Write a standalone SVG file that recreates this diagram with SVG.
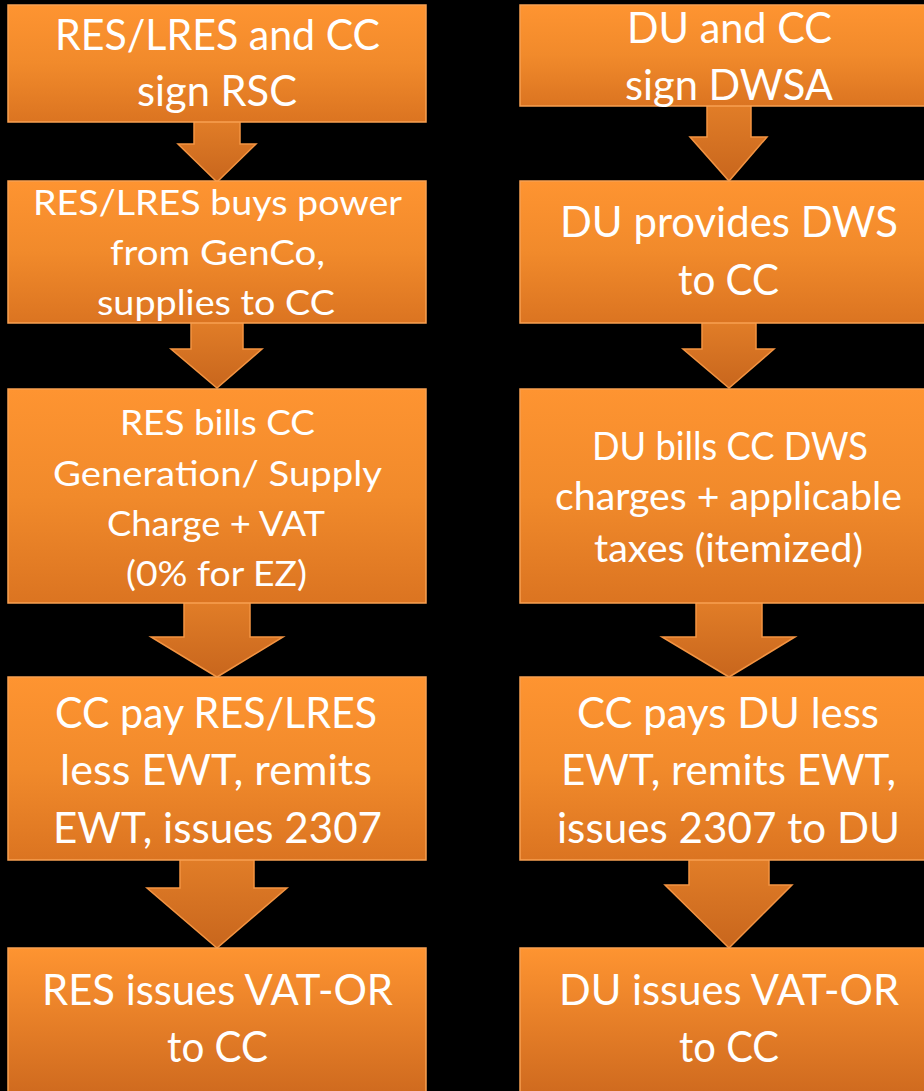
<svg xmlns="http://www.w3.org/2000/svg" width="924" height="1091" viewBox="0 0 924 1091">
  <defs>
    <linearGradient id="boxGrad" x1="0" y1="0" x2="0" y2="1">
      <stop offset="0" stop-color="#FE9431"/>
      <stop offset="0.5" stop-color="#F18A2B"/>
      <stop offset="1" stop-color="#DB7421"/>
    </linearGradient>
    <linearGradient id="endGrad" x1="0" y1="948" x2="0" y2="1091" gradientUnits="userSpaceOnUse">
      <stop offset="0" stop-color="#FE9431"/>
      <stop offset="1" stop-color="#D06B1F"/>
    </linearGradient>
    <linearGradient id="arrowGrad" x1="0" y1="0" x2="0" y2="1">
      <stop offset="0" stop-color="#E27E28"/>
      <stop offset="1" stop-color="#C8661D"/>
    </linearGradient>
    <style>
      .box { fill: url(#boxGrad); stroke: #F8A052; stroke-width: 1.5; }
      .boxEnd { fill: url(#endGrad); stroke: #F8A052; stroke-width: 1.5; }
      .arrow { fill: url(#arrowGrad); stroke: #F39442; stroke-width: 1.5; stroke-linejoin: miter; }
      .t { font-family: Lato, "Open Sans", "Liberation Sans", sans-serif; fill: #FFFFFF; text-anchor: start; }
      .big { font-size: 43px; }
      .mid { font-size: 38px; }
      .sm { font-size: 35px; }
    </style>
  </defs>
  <rect x="0" y="0" width="924" height="1091" fill="#000000"/>

  <g id="connectors">
    <polygon class="arrow" points="194,118 240,118 240,144 256,144 217,182 178,144 194,144"/>
    <polygon class="arrow" points="191,319 243,319 243,349 262,349 217,388 171,349 191,349"/>
    <polygon class="arrow" points="184,599 250,599 250,637 283,637 217,677 151,637 184,637"/>
    <polygon class="arrow" points="180,856 254,856 254,888 287,888 217,948 147,888 180,888"/>
    <polygon class="arrow" points="707,102 751,102 751,137 767,137 729,181 690,137 707,137"/>
    <polygon class="arrow" points="702,319 756,319 756,349 774,349 729,388 683,349 702,349"/>
    <polygon class="arrow" points="696,599 762,599 762,637 795,637 729,677 662,637 696,637"/>
    <polygon class="arrow" points="689,856 769,856 769,885 792,885 729,948 665,885 689,885"/>
  </g>

  <g id="L1">
    <rect class="box" x="8" y="5" width="418" height="117"/>
    <text class="t big" x="55" y="50" textLength="325" lengthAdjust="spacingAndGlyphs">RES/LRES and CC</text>
    <text class="t big" x="137" y="106" textLength="160" lengthAdjust="spacingAndGlyphs">sign RSC</text>
  </g>
  <g id="L2">
    <rect class="box" x="8" y="181" width="418" height="142"/>
    <text class="t sm" x="33" y="215" textLength="369" lengthAdjust="spacingAndGlyphs">RES/LRES buys power</text>
    <text class="t sm" x="110" y="265" textLength="215" lengthAdjust="spacingAndGlyphs">from GenCo,</text>
    <text class="t sm" x="97" y="315" textLength="238" lengthAdjust="spacingAndGlyphs">supplies to CC</text>
  </g>
  <g id="L3">
    <rect class="box" x="8" y="389" width="418" height="214"/>
    <text class="t sm" x="120" y="435" textLength="195" lengthAdjust="spacingAndGlyphs">RES bills CC</text>
    <text class="t sm" x="53" y="486" textLength="329" lengthAdjust="spacingAndGlyphs">Generation/ Supply</text>
    <text class="t sm" x="107" y="536" textLength="218" lengthAdjust="spacingAndGlyphs">Charge + VAT</text>
    <text class="t sm" x="126" y="586" textLength="181" lengthAdjust="spacingAndGlyphs">(0% for EZ)</text>
  </g>
  <g id="L4">
    <rect class="box" x="8" y="677" width="418" height="183"/>
    <text class="t big" x="55" y="728" textLength="322" lengthAdjust="spacingAndGlyphs">CC pay RES/LRES</text>
    <text class="t big" x="60" y="785" textLength="312" lengthAdjust="spacingAndGlyphs">less EWT, remits</text>
    <text class="t big" x="53" y="843" textLength="329" lengthAdjust="spacingAndGlyphs">EWT, issues 2307</text>
  </g>
  <g id="L5">
    <rect class="boxEnd" x="8" y="948" width="418" height="160"/>
    <text class="t big" x="42" y="1005" textLength="351" lengthAdjust="spacingAndGlyphs">RES issues VAT-OR</text>
    <text class="t big" x="167" y="1062" textLength="101" lengthAdjust="spacingAndGlyphs">to CC</text>
  </g>

  <g id="R1">
    <rect class="box" x="520" y="5" width="418" height="101"/>
    <text class="t big" x="627" y="43" textLength="205" lengthAdjust="spacingAndGlyphs">DU and CC</text>
    <text class="t big" x="625" y="100" textLength="208" lengthAdjust="spacingAndGlyphs">sign DWSA</text>
  </g>
  <g id="R2">
    <rect class="box" x="520" y="181" width="418" height="142"/>
    <text class="t big" x="560" y="237" textLength="338" lengthAdjust="spacingAndGlyphs">DU provides DWS</text>
    <text class="t big" x="678" y="295" textLength="101" lengthAdjust="spacingAndGlyphs">to CC</text>
  </g>
  <g id="R3">
    <rect class="box" x="520" y="389" width="418" height="214"/>
    <text class="t mid" x="592" y="460" textLength="276" lengthAdjust="spacingAndGlyphs">DU bills CC DWS</text>
    <text class="t mid" x="555" y="510" textLength="347" lengthAdjust="spacingAndGlyphs">charges + applicable</text>
    <text class="t mid" x="594" y="562" textLength="269" lengthAdjust="spacingAndGlyphs">taxes (itemized)</text>
  </g>
  <g id="R4">
    <rect class="box" x="520" y="677" width="418" height="183"/>
    <text class="t big" x="577" y="728" textLength="302" lengthAdjust="spacingAndGlyphs">CC pays DU less</text>
    <text class="t big" x="561" y="785" textLength="335" lengthAdjust="spacingAndGlyphs">EWT, remits EWT,</text>
    <text class="t big" x="557" y="843" textLength="343" lengthAdjust="spacingAndGlyphs">issues 2307 to DU</text>
  </g>
  <g id="R5">
    <rect class="boxEnd" x="520" y="948" width="418" height="160"/>
    <text class="t big" x="559" y="1005" textLength="340" lengthAdjust="spacingAndGlyphs">DU issues VAT-OR</text>
    <text class="t big" x="679" y="1062" textLength="100" lengthAdjust="spacingAndGlyphs">to CC</text>
  </g>
</svg>
